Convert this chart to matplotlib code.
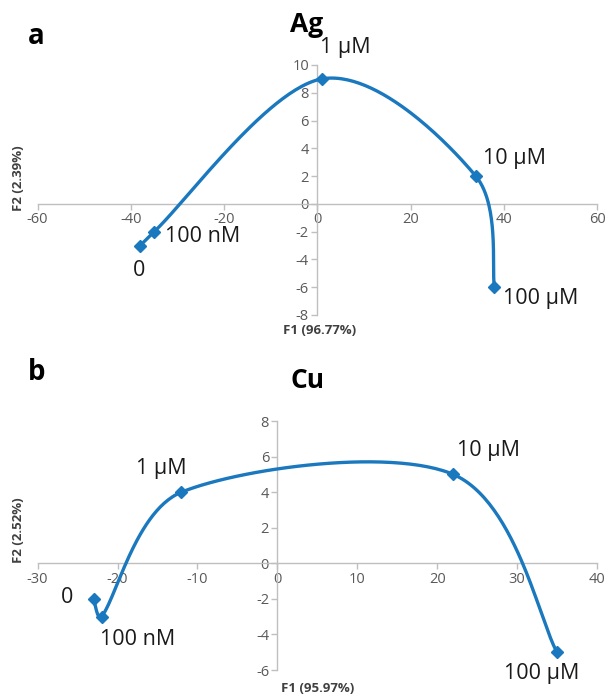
import numpy as np
import matplotlib
matplotlib.use("Agg")
import matplotlib.pyplot as plt

plt.rcParams['font.family'] = ['Open Sans', 'DejaVu Sans']
plt.rcParams['axes.unicode_minus'] = False

# ---- data ----
ag_labels = ["0", "100 nM", "1 µM", "10 µM", "100 µM"]
ag_f1 = [-38, -35, 1, 34, 38]
ag_f2 = [-3, -2, 9, 2, -6]

cu_labels = ["0", "100 nM", "1 µM", "10 µM", "100 µM"]
cu_f1 = [-23, -22, -12, 22, 35]
cu_f2 = [-2, -3, 4, 5, -5]

ag_xticks = [-60, -40, -20, 0, 20, 40, 60]
ag_yticks = [-8, -6, -4, -2, 0, 2, 4, 6, 8, 10]
cu_xticks = [-30, -20, -10, 0, 10, 20, 30, 40]
cu_yticks = [-6, -4, -2, 0, 2, 4, 6, 8]

BLUE = "#1a78be"
AXC = "#bfbfbf"
TXT = "#595959"

W, H = 607, 700
fig = plt.figure(figsize=(W / 100, H / 100), dpi=100)


def px_axes(x0, y0, x1, y1):
    return fig.add_axes([x0 / W, 1 - y1 / H, (x1 - x0) / W, (y1 - y0) / H])


def smooth(ax, x, y, n=60):
    pts = ax.transData.transform(np.column_stack([x, y]))
    P = np.vstack([pts[0], pts, pts[-1]])
    out = []
    t = np.linspace(0, 1, n)[:, None]
    for i in range(1, len(P) - 2):
        p0, p1, p2, p3 = P[i - 1], P[i], P[i + 1], P[i + 2]
        seg_len = np.linalg.norm(p2 - p1)
        t1 = (p2 - p0) / 6
        n1 = np.linalg.norm(p2 - p0)
        if n1 > 0:
            t1 = t1 * min(1.0, 2 * seg_len / n1)
        t2 = (p3 - p1) / 6
        n2 = np.linalg.norm(p3 - p1)
        if n2 > 0:
            t2 = t2 * min(1.0, 2 * seg_len / n2)
        c1 = p1 + t1
        c2 = p2 - t2
        seg = (1 - t) ** 3 * p1 + 3 * (1 - t) ** 2 * t * c1 + 3 * (1 - t) * t ** 2 * c2 + t ** 3 * p2
        out.append(seg)
    d = ax.transData.inverted().transform(np.vstack(out))
    return d[:, 0], d[:, 1]


def style(ax, xticks, yticks):
    ax.set_xlim(xticks[0], xticks[-1])
    ax.set_ylim(yticks[0], yticks[-1])
    ax.set_xticks(xticks)
    ax.set_yticks(yticks)
    for s in ['top', 'right']:
        ax.spines[s].set_visible(False)
    ax.spines['left'].set_position(('data', 0))
    ax.spines['bottom'].set_position(('data', 0))
    for s in ['left', 'bottom']:
        ax.spines[s].set_color(AXC)
        ax.spines[s].set_linewidth(1.0)
    ax.tick_params(direction='out', length=4, width=1.0, color=AXC,
                   labelcolor=TXT, labelsize=10.5, pad=2)
    ax.patch.set_alpha(0)


def draw(ax, xs, ys, labels, offsets):
    sx, sy = smooth(ax, xs, ys)
    ax.plot(sx, sy, color=BLUE, lw=2.4, solid_capstyle='round', zorder=3)
    ax.plot(xs, ys, ls='none', marker='D', ms=6.5, color=BLUE, zorder=4)
    for (x, y, lab, (dx, dy, ha)) in zip(xs, ys, labels, offsets):
        ax.annotate(lab, (x, y), xytext=(dx * 0.72, -dy * 0.72), textcoords='offset points',
                    ha=ha, va='center', fontsize=15.5, color='#1a1a1a', zorder=5)


# ---- panel a ----
ax1 = px_axes(37.6, 65, 597, 315)
style(ax1, ag_xticks, ag_yticks)
ag_off = [(-1, 25, 'center'), (11, 5, 'left'), (-2, -31, 'left'), (7, -18, 'left'), (9, 11, 'left')]
draw(ax1, ag_f1, ag_f2, ag_labels, ag_off)

# ---- panel b ----
ax2 = px_axes(37.6, 421, 597, 670)
style(ax2, cu_xticks, cu_yticks)
cu_off = [(-26, -1, 'center'), (-2, 23, 'left'), (-20, -24, 'center'), (4, -24, 'left'), (-15, 21, 'center')]
draw(ax2, cu_f1, cu_f2, cu_labels, cu_off)


def ftext(x, y, s, **kw):
    fig.text(x / W, 1 - y / H, s, **kw)


ftext(36, 36, "a", fontsize=20, fontweight='bold', ha='center', va='center', color='black')
ftext(307, 25, "Ag", fontsize=19, fontweight='bold', ha='center', va='center', color='black')
ftext(37, 373, "b", fontsize=20, fontweight='bold', ha='center', va='center', color='black')
ftext(308, 381, "Cu", fontsize=19, fontweight='bold', ha='center', va='center', color='black')

ftext(18, 178, "F2 (2.39%)", fontsize=9.5, fontweight='bold', rotation=90, ha='center', va='center', color='#404040')
ftext(320, 331, "F1 (96.77%)", fontsize=9.5, fontweight='bold', ha='center', va='center', color='#404040')
ftext(18, 530, "F2 (2.52%)", fontsize=9.5, fontweight='bold', rotation=90, ha='center', va='center', color='#404040')
ftext(318, 689, "F1 (95.97%)", fontsize=9.5, fontweight='bold', ha='center', va='center', color='#404040')

fig.savefig("out.png", dpi=100)
